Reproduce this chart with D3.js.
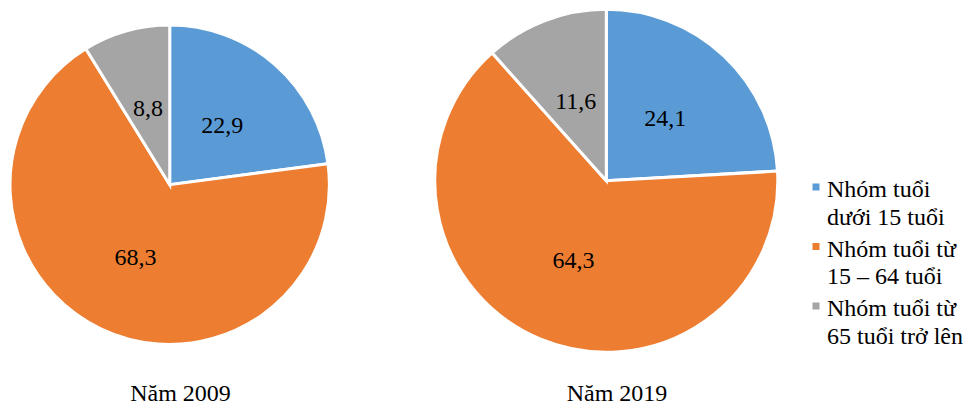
<!DOCTYPE html>
<html>
<head>
<meta charset="utf-8">
<script src="https://cdn.jsdelivr.net/npm/d3@7"></script>
<style>
  html, body { margin: 0; padding: 0; background: #fff; }
  svg { display: block; }
</style>
</head>
<body>
<div id="chart"></div>
<script>
const categories = ['Nhóm tuổi dưới 15 tuổi', 'Nhóm tuổi từ 15 – 64 tuổi', 'Nhóm tuổi từ 65 tuổi trở lên'];
const legendLines = [
  ['Nhóm tuổi', 'dưới 15 tuổi'],
  ['Nhóm tuổi từ', '15 – 64 tuổi'],
  ['Nhóm tuổi từ', '65 tuổi trở lên'],
];
const years = ['Năm 2009', 'Năm 2019'];
const values2009 = [22.9, 68.3, 8.8];
const values2019 = [24.1, 64.3, 11.6];
const colors = ['#5B9BD5', '#ED7D31', '#A5A5A5'];

const width = 965, height = 410;
const FONT = 'Liberation Serif';

const svg = d3.select('#chart')
  .append('svg')
  .attr('width', width)
  .attr('height', height)
  .attr('font-family', FONT);

const color = d3.scaleOrdinal().domain(categories).range(colors);
const fmt = v => d3.format('.1f')(v).replace('.', ',');

const pie = d3.pie().sort(null).value(d => d.value);

// one pie per year
const pies = [
  { title: years[0], values: values2009, cx: 169.7, cy: 184.7, r: 159.7, tx: 180.5 },
  { title: years[1], values: values2019, cx: 606.3, cy: 180.8, r: 171.5, tx: 617 },
];

pies.forEach(p => {
  const rows = categories.map((c, i) => ({ cat: c, value: p.values[i] }));
  const arcs = pie(rows);
  const arc = d3.arc().innerRadius(0).outerRadius(p.r);
  const labelArc = d3.arc().innerRadius(p.r * 0.5).outerRadius(p.r * 0.5);

  svg.append('g')
    .attr('transform', `translate(${p.cx},${p.cy})`)
    .selectAll('path')
    .data(arcs)
    .join('path')
    .attr('d', arc)
    .attr('fill', d => color(d.data.cat))
    .attr('stroke', '#fff')
    .attr('stroke-width', 3)
    .attr('stroke-linejoin', 'miter');

  // value labels at half radius on the mid angle
  arcs.forEach(d => {
    const [x, y] = labelArc.centroid(d);
    svg.append('text')
      .attr('x', p.cx + x)
      .attr('y', p.cy + y + 8)
      .attr('text-anchor', 'middle')
      .attr('font-family', FONT)
      .attr('font-size', 24)
      .attr('fill', '#000')
      .text(fmt(d.data.value));
  });

  svg.append('text')
    .attr('x', p.tx)
    .attr('y', 401)
    .attr('text-anchor', 'middle')
    .attr('font-family', FONT)
    .attr('font-size', 24)
    .attr('fill', '#000')
    .text(p.title);
});

// Legend
const lx = 812.5, ly = 197, step = 59.5, lineH = 27.5;

svg.append('g')
  .selectAll('rect')
  .data(categories)
  .join('rect')
  .attr('x', lx)
  .attr('y', (d, i) => ly + i * step - 13.5)
  .attr('width', 7)
  .attr('height', 7)
  .attr('fill', d => color(d));

legendLines.forEach((lines, i) => {
  lines.forEach((line, j) => {
    svg.append('text')
      .attr('x', lx + 14.5)
      .attr('y', ly + i * step + j * lineH)
      .attr('font-family', FONT)
      .attr('font-size', 24)
      .attr('fill', '#000')
      .text(line);
  });
});
</script>
</body>
</html>
